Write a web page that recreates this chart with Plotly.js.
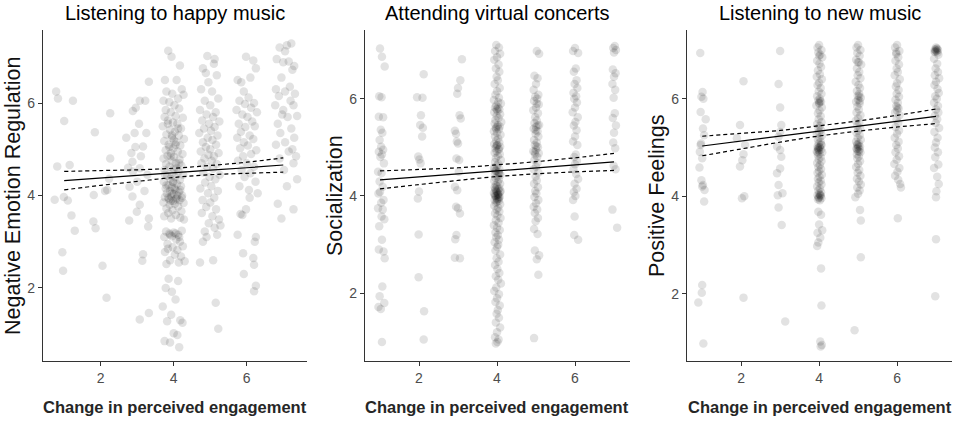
<!DOCTYPE html>
<html><head><meta charset="utf-8">
<script src="https://cdn.plot.ly/plotly-3.0.1.min.js"></script>
<style>html,body{margin:0;padding:0;background:#fff;}</style>
</head><body>
<div id="chart" style="width:957px;height:421px;"></div>
<script>
// ---- Panel titles / axis titles ----
const panelTitles = ["Listening to happy music", "Attending virtual concerts", "Listening to new music"];
const yTitles = ["Negative Emotion Regulation", "Socialization", "Positive Feelings"];
const xTitle = "Change in perceived engagement";
const tickVals = [2, 4, 6];

// ---- Panel 1: Listening to happy music (x, y) ----
const happyC1 = [[0.78,6.25],[0.83,6.10],[1.24,6.05],[1.00,5.61],[0.81,4.63],[1.15,4.66],[0.74,3.91],[0.99,3.97],[1.10,3.89],[1.20,3.57],[1.29,3.24],[0.95,2.77],[0.97,2.37]];
const happyC2 = [[1.84,5.37],[2.26,5.78],[2.26,4.80],[2.12,4.10],[2.18,4.12],[1.81,4.01],[1.80,3.44],[1.86,3.29],[2.05,2.48],[2.16,1.79],[2.23,4.36]];
const happyC3 = [[2.70,5.25],[2.93,5.35],[2.88,5.83],[2.96,5.90],[3.07,6.05],[3.32,6.46],[3.25,5.35],[3.16,5.06],[2.84,4.92],[2.87,4.73],[2.88,4.52],[3.07,4.59],[2.79,4.19],[2.87,3.98],[3.07,3.80],[2.99,3.65],[2.78,3.46],[3.32,3.50],[3.30,3.33],[3.16,2.73],[3.14,2.59],[3.07,1.32],[3.32,1.46],[3.00,4.30],[3.20,4.10],[2.95,5.05],[3.10,4.85],[2.75,4.60],[3.28,4.45],[3.05,5.55],[3.22,6.05]];
const happyC4 = [[3.85,7.13],[3.94,7.00],[4.17,6.81],[3.76,6.50],[4.08,6.50],[4.22,6.30],[3.80,6.25],[3.96,6.20],[4.12,6.10],[3.72,6.05],[4.27,6.18],[3.88,6.02],[4.02,5.95],[3.78,5.85],[4.15,5.88],[3.92,5.80],[4.05,5.72],[3.75,5.70],[4.25,5.68],[3.84,5.62],[3.98,5.58],[4.10,5.55],[3.70,5.50],[4.20,5.45],[3.90,5.42],[4.03,5.38],[3.80,5.32],[4.14,5.30],[3.95,5.25],[4.28,5.22],[3.74,5.18],[4.07,5.15],[3.86,5.10],[4.18,5.08],[3.99,5.02],[3.78,4.98],[4.11,4.95],[3.92,4.92],[4.24,4.90],[3.83,4.86],[4.01,4.84],[3.72,4.80],[4.16,4.78],[3.94,4.75],[4.06,4.70],[3.79,4.68],[4.21,4.65],[3.88,4.62],[4.00,4.58],[3.75,4.55],[4.13,4.52],[3.96,4.48],[4.26,4.45],[3.82,4.42],[4.04,4.40],[3.91,4.36],[4.17,4.34],[3.73,4.30],[3.99,4.28],[4.09,4.25],[3.86,4.22],[4.20,4.20],[3.95,4.18],[3.78,4.15],[4.05,4.12],[3.90,4.10],[4.14,4.08],[3.81,4.05],[4.00,4.03],[4.23,4.00],[3.93,3.98],[3.76,3.96],[4.08,3.94],[3.87,3.92],[4.16,3.90],[3.98,3.88],[3.72,3.85],[4.03,3.82],[4.27,3.84],[3.89,3.80],[4.12,3.76],[3.80,3.72],[3.97,3.68],[4.21,3.66],[3.85,3.62],[4.06,3.58],[3.74,3.55],[4.18,3.52],[3.93,3.50],[4.28,3.48],[3.79,3.22],[3.88,3.18],[4.00,3.20],[4.12,3.15],[4.22,3.24],[3.74,3.10],[3.95,3.12],[4.07,3.05],[4.17,3.00],[3.83,2.95],[4.25,2.90],[3.97,2.88],[4.10,2.82],[3.76,2.78],[4.03,2.72],[4.20,2.68],[3.90,2.60],[4.14,2.55],[3.80,2.52],[4.30,2.58],[3.86,2.20],[4.12,2.15],[3.78,2.00],[4.05,1.75],[3.70,1.60],[3.93,1.42],[4.18,1.30],[3.82,1.28],[4.24,1.25],[4.00,1.02],[4.10,0.98],[3.75,0.85],[3.90,0.82],[4.15,0.72],[3.95,1.92],[3.95,4.05],[4.10,4.00],[3.85,3.95],[4.02,4.15],[3.92,3.88],[4.18,4.12],[3.80,4.22],[4.06,3.92],[3.98,4.30],[4.22,3.95],[3.88,5.05],[4.05,5.10],[3.95,5.30],[4.12,5.45],[3.84,5.55],[4.00,5.20],[3.92,4.85],[4.15,4.70],[3.76,4.45],[4.08,4.60],[3.90,3.15],[4.05,3.18],[3.84,2.85],[4.15,3.10]];
const happyC5 = [[4.92,7.02],[5.10,6.85],[4.80,6.75],[5.18,6.60],[4.95,6.45],[4.75,6.30],[5.05,6.25],[5.22,6.10],[4.85,6.05],[5.00,5.95],[4.72,5.85],[5.15,5.80],[4.90,5.75],[5.08,5.70],[4.78,5.62],[5.25,5.60],[4.97,5.55],[5.12,5.48],[4.83,5.45],[5.02,5.40],[4.70,5.35],[5.20,5.30],[4.93,5.25],[5.06,5.20],[4.80,5.15],[5.16,5.10],[4.88,5.05],[5.00,5.00],[4.74,4.95],[5.23,4.92],[4.95,4.88],[5.10,4.85],[4.84,4.80],[5.04,4.75],[4.76,4.70],[5.18,4.68],[4.91,4.62],[5.08,4.58],[4.81,4.50],[5.26,4.45],[4.98,4.40],[5.14,4.35],[4.86,4.28],[5.03,4.20],[4.73,4.15],[5.21,4.10],[4.94,4.05],[5.11,3.95],[4.79,3.90],[5.00,3.85],[4.89,3.75],[5.16,3.70],[4.77,3.62],[5.06,3.55],[5.24,3.48],[4.96,3.40],[5.12,3.30],[4.85,3.22],[5.19,3.15],[4.90,3.10],[4.72,2.55],[5.08,2.60],[5.15,1.68],[5.22,1.12],[4.80,3.00],[5.28,3.35],[4.88,6.65],[5.12,6.95]];
const happyC6 = [[5.98,7.00],[6.18,6.92],[6.25,6.75],[5.75,6.50],[5.85,6.45],[6.10,6.55],[5.92,6.25],[6.05,6.12],[5.80,6.05],[6.20,6.00],[5.95,5.98],[6.12,5.90],[5.72,5.85],[6.28,5.80],[5.88,5.75],[6.02,5.70],[6.15,5.60],[5.78,5.55],[6.22,5.50],[5.96,5.48],[5.84,5.38],[6.08,5.30],[5.74,5.25],[6.18,5.22],[5.92,5.15],[6.03,5.08],[5.82,5.02],[6.26,4.98],[6.12,4.90],[5.90,4.85],[5.76,4.75],[6.00,4.70],[6.20,4.62],[5.86,4.55],[6.10,4.48],[5.94,4.40],[6.24,4.30],[5.80,4.20],[6.06,4.12],[6.30,4.05],[5.98,3.70],[5.88,3.58],[6.25,3.10],[6.22,3.00],[5.83,3.60],[5.75,3.15],[5.90,2.75],[6.18,2.65],[6.20,2.50],[5.92,2.30],[6.25,2.05],[6.20,1.93],[6.08,3.95]];
const happyC7 = [[7.22,7.29],[7.10,7.25],[6.90,7.20],[7.05,7.12],[6.82,6.95],[7.15,6.90],[7.00,6.88],[7.30,6.80],[7.25,6.72],[6.95,6.55],[6.80,6.30],[7.18,6.35],[7.05,6.25],[7.32,6.20],[6.88,6.15],[7.20,6.05],[7.28,5.95],[6.78,5.95],[7.00,5.85],[6.97,5.75],[7.12,5.70],[7.38,5.72],[6.85,5.55],[7.22,5.45],[6.92,5.35],[7.30,5.25],[7.05,5.15],[6.80,5.10],[7.25,5.00],[7.15,4.95],[7.35,4.85],[6.90,4.80],[7.28,4.70],[7.02,4.55],[7.38,4.35],[6.85,3.82],[7.28,3.70],[6.95,3.50],[7.10,4.20]];

// ---- Panel 2: Attending virtual concerts (x, y) ----
const virtC1 = [[1.00,7.03],[1.05,6.86],[1.12,6.66],[0.98,6.05],[1.04,6.03],[0.97,5.63],[1.08,5.62],[1.02,5.36],[1.06,5.30],[0.99,5.15],[1.03,5.01],[1.08,4.95],[0.97,4.91],[1.05,4.85],[1.01,4.80],[1.10,4.67],[0.95,4.50],[1.04,4.47],[0.99,4.30],[1.07,4.19],[1.00,4.08],[0.96,4.05],[1.09,3.92],[1.03,3.86],[0.95,3.75],[1.07,3.72],[1.04,3.58],[1.11,3.52],[0.98,3.38],[1.05,3.10],[0.97,2.90],[1.09,2.86],[1.12,2.72],[1.06,2.14],[0.99,1.94],[1.11,1.80],[0.96,1.72],[1.02,1.68],[1.05,1.00]];
const virtC2 = [[2.12,6.50],[1.95,6.03],[2.09,6.02],[2.05,5.66],[2.03,5.46],[2.10,5.40],[2.08,5.22],[1.98,4.81],[2.01,4.75],[2.04,4.67],[2.00,4.09],[1.97,3.95],[1.99,3.21],[1.99,2.33],[2.13,1.63],[2.12,1.05]];
const virtC3 = [[3.10,6.81],[3.06,6.38],[3.00,6.22],[2.98,6.10],[3.04,5.66],[3.07,5.59],[2.92,5.34],[2.95,5.28],[2.97,5.12],[3.00,5.08],[2.96,4.77],[3.03,4.74],[2.92,4.19],[2.98,4.12],[2.95,3.78],[3.00,3.75],[3.05,3.64],[2.96,3.20],[2.93,3.11],[2.92,2.73],[3.05,2.72],[3.02,4.50]];
const virtC4 = [[3.98,7.10],[4.05,7.05],[3.95,6.98],[4.08,6.92],[4.00,6.85],[3.93,6.80],[4.04,6.70],[3.97,6.62],[4.06,6.55],[3.99,6.45],[4.02,6.38],[3.94,6.30],[4.07,6.22],[4.00,6.15],[3.96,6.08],[4.05,6.02],[3.92,5.97],[4.03,5.93],[4.10,5.90],[3.98,5.86],[3.95,5.82],[4.06,5.78],[4.01,5.75],[3.93,5.72],[4.08,5.68],[3.99,5.65],[4.04,5.60],[3.96,5.56],[4.11,5.52],[3.94,5.49],[4.02,5.46],[4.07,5.43],[3.97,5.40],[4.05,5.37],[3.92,5.33],[4.00,5.30],[4.09,5.26],[3.95,5.22],[4.03,5.18],[3.98,5.14],[4.06,5.10],[3.93,5.07],[4.01,5.04],[4.08,5.01],[3.96,4.98],[4.04,4.95],[3.99,4.92],[3.94,4.89],[4.07,4.86],[4.02,4.82],[3.97,4.78],[4.10,4.74],[3.95,4.70],[4.03,4.66],[4.00,4.62],[3.92,4.58],[4.06,4.55],[3.98,4.52],[4.04,4.49],[3.95,4.46],[4.09,4.43],[4.01,4.40],[3.96,4.37],[4.05,4.34],[3.93,4.31],[4.02,4.28],[4.08,4.25],[3.97,4.22],[4.00,4.20],[3.94,4.18],[4.06,4.16],[4.03,4.14],[3.96,4.12],[4.09,4.10],[3.99,4.08],[3.92,4.06],[4.04,4.04],[4.01,4.02],[3.95,4.00],[4.07,3.98],[3.98,3.96],[4.02,3.94],[3.94,3.92],[4.05,3.90],[4.00,3.88],[3.97,3.86],[4.08,3.83],[3.93,3.80],[4.03,3.76],[3.99,3.72],[4.06,3.68],[3.95,3.64],[4.01,3.60],[4.09,3.55],[3.97,3.50],[4.04,3.45],[3.92,3.40],[4.00,3.35],[4.07,3.30],[3.96,3.25],[4.02,3.20],[3.98,3.15],[4.05,3.10],[3.94,3.05],[4.03,3.00],[4.00,2.95],[3.96,2.88],[4.08,2.80],[3.99,2.72],[4.04,2.65],[3.95,2.58],[4.01,2.50],[4.06,2.42],[3.97,2.35],[4.03,2.28],[4.10,2.20],[3.98,2.12],[3.93,2.05],[4.05,1.98],[4.00,1.90],[3.96,1.82],[4.07,1.75],[4.02,1.66],[3.99,1.58],[4.05,1.50],[3.97,1.40],[4.08,1.30],[4.00,1.20],[3.95,1.10],[4.04,1.05],[4.01,1.00],[3.97,0.97],[4.02,4.05],[3.97,4.00],[4.05,3.95],[3.99,4.10],[4.04,3.98],[3.94,4.03],[4.08,4.08],[4.00,3.93],[3.96,4.15],[4.03,4.02],[3.98,5.02],[4.05,4.97],[4.00,5.05],[3.96,4.52],[4.04,4.48],[4.01,5.42],[3.97,5.38],[4.03,5.82],[3.99,5.78],[4.06,4.45],[3.94,4.55]];
const virtC5 = [[5.02,6.98],[5.08,6.92],[4.96,6.47],[5.04,6.42],[5.00,6.30],[4.94,6.18],[5.06,6.08],[4.98,6.04],[5.03,6.00],[4.95,5.95],[5.07,5.88],[5.00,5.82],[4.93,5.76],[5.05,5.70],[4.98,5.62],[5.02,5.55],[4.96,5.50],[5.08,5.46],[5.00,5.42],[4.94,5.38],[5.04,5.33],[4.99,5.28],[5.06,5.22],[4.95,5.15],[5.02,5.10],[4.97,5.05],[5.05,5.00],[5.00,4.95],[4.93,4.92],[5.07,4.88],[4.98,4.85],[5.03,4.80],[4.96,4.74],[5.04,4.68],[5.00,4.60],[4.94,4.55],[5.06,4.48],[4.99,4.40],[5.02,4.32],[4.95,4.25],[5.05,4.18],[4.98,4.10],[5.01,4.05],[4.96,3.98],[5.06,3.92],[5.00,3.85],[4.94,3.78],[5.03,3.72],[4.97,3.65],[5.05,3.55],[4.99,3.48],[4.95,3.32],[5.04,3.22],[4.97,2.88],[5.08,2.78],[5.02,2.70],[5.06,2.38],[4.95,1.08],[5.01,5.02],[4.97,4.90],[5.04,5.45],[4.99,5.35],[5.02,5.90]];
const virtC6 = [[6.00,7.04],[5.95,6.98],[6.08,6.94],[6.02,6.62],[5.97,6.55],[6.04,6.38],[5.99,6.30],[6.06,6.22],[5.96,6.12],[6.03,6.05],[5.98,6.00],[6.05,5.92],[6.00,5.82],[5.94,5.72],[6.07,5.62],[6.01,5.52],[5.97,5.45],[6.04,5.35],[6.00,5.22],[5.95,5.12],[6.06,5.05],[6.02,4.85],[5.98,4.80],[6.05,4.72],[6.00,4.65],[5.96,4.55],[6.03,4.45],[6.08,4.35],[5.99,4.25],[6.04,4.15],[5.97,4.08],[6.01,4.00],[5.95,3.92],[5.99,3.58],[5.98,3.20],[6.08,3.10]];
const virtC7 = [[7.02,7.08],[6.98,7.04],[7.05,7.00],[7.00,6.95],[6.97,6.60],[7.04,6.52],[7.00,6.45],[6.96,6.30],[7.03,6.18],[6.99,6.02],[7.02,5.70],[6.97,5.60],[7.05,5.45],[7.00,5.30],[6.98,5.10],[7.03,4.98],[6.99,4.62],[7.04,4.55],[6.96,3.72],[7.08,3.35]];

// ---- Panel 3: Listening to new music (x, y) ----
const newC1 = [[0.95,6.94],[1.01,6.14],[0.98,6.04],[1.03,6.00],[0.96,5.73],[1.09,5.58],[1.02,5.39],[1.05,5.25],[0.97,5.08],[0.94,4.91],[1.00,4.78],[0.93,4.59],[0.98,4.33],[1.02,4.23],[1.06,4.13],[1.05,3.89],[1.00,2.18],[0.99,2.02],[0.90,1.82],[1.03,0.98],[1.00,4.20],[0.96,5.05]];
const newC2 = [[2.06,6.36],[1.97,5.46],[1.89,5.19],[2.06,4.86],[2.03,4.74],[1.97,4.61],[2.02,3.96],[2.08,4.00],[2.06,1.92],[2.10,5.05]];
const newC3 = [[3.00,6.98],[2.96,6.30],[3.00,5.82],[3.03,5.46],[3.00,5.32],[2.96,5.22],[2.92,5.02],[3.03,4.81],[3.00,4.95],[2.92,4.47],[3.00,4.57],[2.96,4.23],[3.06,4.06],[2.94,4.02],[2.96,3.77],[3.04,3.41],[3.13,1.43]];
const newC4 = [[4.00,7.10],[3.96,7.05],[4.06,7.00],[3.98,6.95],[4.03,6.90],[4.08,6.85],[3.95,6.78],[4.01,6.72],[4.05,6.65],[3.97,6.58],[4.02,6.50],[3.94,6.45],[4.07,6.40],[4.00,6.33],[3.96,6.28],[4.04,6.22],[3.99,6.15],[4.06,6.10],[3.95,6.05],[4.02,6.00],[3.98,5.97],[4.05,5.94],[4.00,5.90],[3.93,5.86],[4.07,5.82],[4.01,5.76],[3.97,5.70],[4.04,5.64],[3.99,5.58],[4.06,5.52],[3.95,5.48],[4.02,5.44],[3.98,5.40],[4.05,5.36],[4.00,5.32],[3.94,5.28],[4.07,5.24],[4.01,5.20],[3.97,5.16],[4.04,5.12],[3.99,5.08],[4.06,5.05],[3.96,5.02],[4.02,5.00],[3.98,4.98],[4.05,4.96],[4.00,4.94],[3.94,4.92],[4.08,4.90],[4.01,4.87],[3.97,4.84],[4.04,4.80],[3.99,4.76],[4.06,4.72],[3.95,4.68],[4.02,4.64],[3.98,4.60],[4.05,4.56],[4.00,4.52],[3.96,4.48],[4.07,4.44],[4.01,4.40],[3.97,4.36],[4.04,4.32],[3.99,4.28],[4.06,4.24],[3.95,4.20],[4.02,4.16],[3.98,4.12],[4.05,4.08],[4.00,4.05],[3.96,4.02],[4.04,4.00],[3.99,3.98],[4.06,3.96],[3.97,3.94],[4.02,3.92],[3.98,3.68],[4.05,3.62],[4.00,3.42],[4.08,3.30],[3.96,3.25],[4.03,3.15],[3.98,3.05],[3.95,2.98],[4.05,2.52],[4.06,1.76],[4.03,1.02],[4.07,0.95],[4.04,0.92],[4.01,5.01],[3.97,4.99],[4.03,4.03],[3.99,3.97],[4.02,5.95],[4.00,6.88],[3.98,4.95],[4.05,5.06],[3.96,4.90],[4.03,4.02],[4.00,5.92]];
const newC5 = [[5.00,7.10],[4.96,7.05],[5.06,7.00],[4.98,6.94],[5.04,6.88],[4.95,6.80],[5.02,6.75],[5.08,6.70],[4.97,6.62],[5.03,6.55],[4.99,6.48],[5.06,6.42],[4.94,6.35],[5.01,6.28],[5.05,6.22],[4.97,6.16],[5.03,6.10],[4.99,6.06],[5.07,6.02],[5.00,5.98],[4.95,5.94],[5.04,5.90],[4.98,5.84],[5.02,5.78],[4.96,5.72],[5.06,5.66],[5.00,5.60],[4.94,5.55],[5.03,5.50],[4.98,5.45],[5.05,5.40],[5.00,5.35],[4.96,5.30],[5.04,5.25],[4.99,5.20],[5.07,5.16],[4.95,5.12],[5.02,5.08],[4.98,5.05],[5.05,5.02],[5.00,5.00],[4.96,4.98],[5.04,4.96],[4.99,4.93],[5.06,4.90],[4.97,4.86],[5.02,4.82],[4.98,4.78],[5.05,4.72],[5.00,4.66],[4.95,4.60],[5.03,4.54],[4.99,4.48],[5.06,4.42],[4.97,4.36],[5.02,4.30],[5.07,4.24],[4.98,4.18],[5.04,4.12],[5.00,4.05],[4.93,3.98],[5.05,3.72],[5.07,3.50],[5.07,2.75],[4.91,1.25],[5.01,5.03],[4.97,4.97],[5.03,6.05],[4.99,6.75],[5.02,4.92],[4.98,5.07],[5.04,5.95]];
const newC6 = [[6.00,7.10],[5.95,7.05],[6.06,6.98],[5.98,6.92],[6.03,6.85],[5.96,6.78],[6.05,6.70],[5.99,6.62],[6.02,6.55],[5.94,6.48],[6.07,6.40],[6.00,6.32],[5.97,6.25],[6.04,6.18],[5.99,6.10],[6.05,6.04],[5.96,5.98],[6.02,5.92],[5.98,5.85],[6.04,5.80],[6.00,5.76],[5.95,5.72],[6.06,5.66],[5.99,5.58],[6.03,5.50],[5.96,5.42],[6.05,5.35],[6.00,5.28],[5.94,5.20],[6.04,5.12],[5.98,5.05],[6.02,4.98],[5.96,4.90],[6.05,4.82],[5.99,4.75],[5.93,4.66],[6.06,4.58],[6.01,4.50],[5.95,4.42],[6.03,4.34],[6.08,4.25],[6.10,4.18],[6.02,3.55],[6.01,5.82],[5.98,6.95]];
const newC7 = [[7.00,7.05],[7.03,7.03],[6.97,7.01],[7.05,7.00],[6.99,6.99],[7.02,6.98],[6.96,6.97],[7.04,6.95],[7.01,7.02],[6.98,6.96],[7.06,6.90],[6.95,6.82],[7.03,6.72],[6.99,6.62],[7.05,6.55],[6.97,6.48],[7.08,6.42],[7.00,6.35],[6.96,6.28],[7.04,6.20],[7.07,6.12],[6.98,6.05],[7.02,6.00],[6.95,5.92],[7.05,5.85],[7.00,5.78],[7.06,5.72],[6.97,5.65],[7.03,5.58],[6.99,5.50],[7.08,5.40],[6.96,5.32],[7.04,5.20],[7.00,5.10],[6.97,5.00],[7.05,4.90],[6.98,4.80],[7.06,4.65],[6.95,4.58],[7.03,4.40],[7.07,4.25],[7.01,4.10],[7.00,3.98],[7.00,3.12],[6.98,1.95]];

// ---- Fitted lines and confidence bounds (read at x = 1..7) ----
const fitX = [1, 2, 3, 4, 5, 6, 7];
const happyFit = [4.32, 4.38, 4.43, 4.49, 4.55, 4.60, 4.66];
const happyUpper = [4.52, 4.54, 4.555, 4.59, 4.65, 4.72, 4.815];
const happyLower = [4.12, 4.22, 4.305, 4.39, 4.45, 4.48, 4.505];
const virtFit = [4.33, 4.39, 4.45, 4.52, 4.58, 4.64, 4.70];
const virtUpper = [4.515, 4.545, 4.58, 4.64, 4.705, 4.785, 4.875];
const virtLower = [4.145, 4.235, 4.32, 4.40, 4.455, 4.495, 4.525];
const newFit = [5.03, 5.13, 5.23, 5.34, 5.44, 5.54, 5.64];
const newUpper = [5.23, 5.29, 5.35, 5.445, 5.545, 5.66, 5.79];
const newLower = [4.83, 4.97, 5.11, 5.235, 5.335, 5.42, 5.49];

const panels = [
  {cols: [happyC1, happyC2, happyC3, happyC4, happyC5, happyC6, happyC7], fit: happyFit, up: happyUpper, lo: happyLower},
  {cols: [virtC1, virtC2, virtC3, virtC4, virtC5, virtC6, virtC7], fit: virtFit, up: virtUpper, lo: virtLower},
  {cols: [newC1, newC2, newC3, newC4, newC5, newC6, newC7], fit: newFit, up: newUpper, lo: newLower}
];

const W = 957, H = 421;
const plotBoxes = [[43, 307], [365, 630], [687, 952]];
const yTop = 30, yBot = 361;
const xRanges = [[0.42, 7.65], [0.615, 7.41], [0.61, 7.41]];
const yRanges = [[0.42, 7.58], [0.61, 7.41], [0.62, 7.41]];
const yTitleX = [13, 335, 657];

const FONT = "Liberation Sans, Arial, Helvetica, sans-serif";
const traces = [];
const layout = {
  width: W, height: H,
  margin: {l: 0, r: 0, t: 0, b: 0},
  paper_bgcolor: "#fff", plot_bgcolor: "#fff",
  showlegend: false,
  font: {family: FONT},
  annotations: []
};

panels.forEach((p, i) => {
  const sfx = i === 0 ? "" : String(i + 1);
  const xa = "x" + sfx, ya = "y" + sfx;
  const pts = [].concat(...p.cols);
  traces.push({
    type: "scatter", mode: "markers", xaxis: xa, yaxis: ya,
    x: pts.map(d => d[0]), y: pts.map(d => d[1]),
    marker: {color: "#000", opacity: 0.115, size: 8.5, line: {width: 0}},
    hoverinfo: "skip"
  });
  traces.push({type: "scatter", mode: "lines", xaxis: xa, yaxis: ya, x: fitX, y: p.up,
    line: {color: "#000", width: 1.2, dash: "4px,3px", shape: "spline"}, hoverinfo: "skip"});
  traces.push({type: "scatter", mode: "lines", xaxis: xa, yaxis: ya, x: fitX, y: p.lo,
    line: {color: "#000", width: 1.2, dash: "4px,3px", shape: "spline"}, hoverinfo: "skip"});
  traces.push({type: "scatter", mode: "lines", xaxis: xa, yaxis: ya, x: fitX, y: p.fit,
    line: {color: "#000", width: 1.2}, hoverinfo: "skip"});

  const common = {
    showline: true, linecolor: "#333", linewidth: 1.1,
    ticks: "outside", ticklen: 4, tickcolor: "#333", tickwidth: 1,
    tickfont: {size: 14, color: "#4d4d4d", family: FONT},
    showgrid: false, zeroline: false, tickmode: "array", tickvals: tickVals,
    fixedrange: true
  };
  layout["xaxis" + sfx] = Object.assign({}, common, {
    domain: [plotBoxes[i][0] / W, plotBoxes[i][1] / W],
    range: xRanges[i], anchor: ya
  });
  layout["yaxis" + sfx] = Object.assign({}, common, {
    domain: [1 - yBot / H, 1 - yTop / H],
    range: yRanges[i], anchor: xa
  });
  const cx = (plotBoxes[i][0] + plotBoxes[i][1]) / 2 / W;
  layout.annotations.push({
    text: panelTitles[i], xref: "paper", yref: "paper", x: cx, y: 1 - 13 / H,
    xanchor: "center", yanchor: "middle", showarrow: false,
    font: {size: 20, color: "#000", family: FONT}
  });
  layout.annotations.push({
    text: "<b>" + xTitle + "</b>", xref: "paper", yref: "paper", x: cx, y: 1 - 407 / H,
    xanchor: "center", yanchor: "middle", showarrow: false,
    font: {size: 16.5, color: "#262626", family: FONT}
  });
  layout.annotations.push({
    text: yTitles[i], xref: "paper", yref: "paper", x: yTitleX[i] / W, y: 1 - 196 / H,
    xanchor: "center", yanchor: "middle", showarrow: false, textangle: -90,
    font: {size: 21.5, color: "#111", family: FONT}
  });
});

Plotly.newPlot("chart", traces, layout, {displayModeBar: false, staticPlot: true});
</script>
</body></html>
